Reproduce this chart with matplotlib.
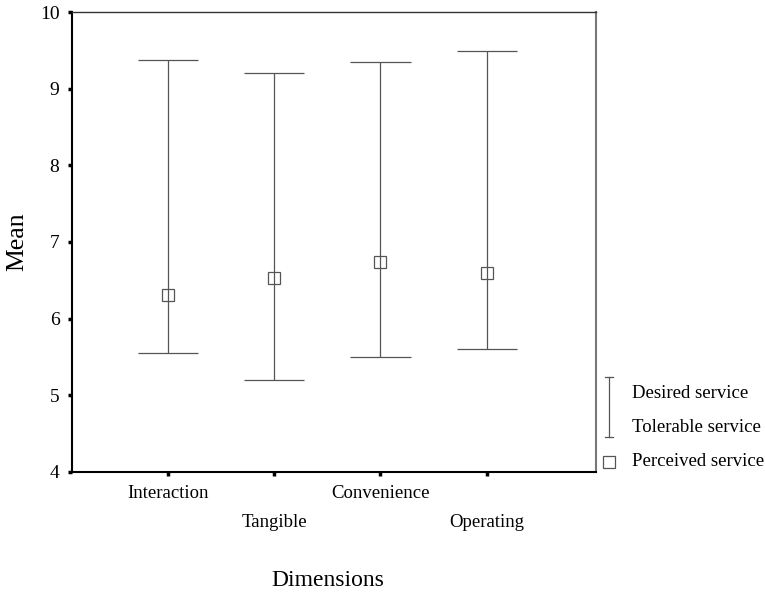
import matplotlib.pyplot as plt
from matplotlib.lines import Line2D

dimensions = ['Interaction', 'Tangible', 'Convenience', 'Operating']
desired = [9.37, 9.20, 9.35, 9.49]
tolerable = [5.55, 5.20, 5.50, 5.60]
perceived = [6.31, 6.53, 6.74, 6.60]

plt.rcParams['font.family'] = 'Liberation Serif'

fig = plt.figure(figsize=(7.65, 5.93), dpi=100)
ax = fig.add_axes([72 / 765, 1 - 472 / 593, 524 / 765, 460 / 593])

pos = [1, 2, 3, 4]
gray = '#555555'
cap = 0.283
for x, hi, lo in zip(pos, desired, tolerable):
    ax.vlines(x, lo, hi, color=gray, lw=0.9)
    ax.hlines([lo, hi], x - cap, x + cap, color=gray, lw=0.9)
ax.plot(pos, perceived, ls='none', marker='s', ms=8, mfc='none', mec=gray, mew=0.9)

ax.set_xlim(0.094, 5.03)
ax.set_ylim(4, 10)
ax.set_yticks(range(4, 11))
ax.tick_params(axis='y', labelsize=14, length=3, width=2.5, direction='out', pad=6)

ax.set_xticks([1, 3])
ax.set_xticklabels([dimensions[0], dimensions[2]])
ax.set_xticks([2, 4], minor=True)
ax.set_xticklabels([dimensions[1], dimensions[3]], minor=True)
ax.tick_params(axis='x', which='major', labelsize=13.5, length=3, width=2.5, pad=6)
ax.tick_params(axis='x', which='minor', labelsize=13.5, length=3, width=2.5, pad=27)

for s in ['left', 'bottom']:
    ax.spines[s].set_linewidth(1.5)
    ax.spines[s].set_color('black')
ax.spines['top'].set_linewidth(1.0)
ax.spines['top'].set_color('#333333')
ax.spines['right'].set_linewidth(1.5)
ax.spines['right'].set_color('#777777')

fig.text(17 / 765, 1 - 242 / 593, 'Mean', rotation=90, ha='center', va='center', fontsize=18.5)
fig.text(328 / 765, 1 - 580 / 593, 'Dimensions', ha='center', va='center', fontsize=17)

# legend drawn by hand on the right
fig.add_artist(Line2D([609 / 765] * 2, [1 - 377 / 593, 1 - 437 / 593], color=gray, lw=0.9))
for yy in [377, 437]:
    fig.add_artist(Line2D([605 / 765, 613 / 765], [1 - yy / 593] * 2, color=gray, lw=0.9))
fig.add_artist(Line2D([609 / 765], [1 - 462 / 593], ls='none', marker='s', ms=8,
                      mfc='none', mec=gray, mew=0.9))
fig.text(632 / 765, 1 - 393 / 593, 'Desired service', va='center', fontsize=13.5)
fig.text(632 / 765, 1 - 428 / 593, 'Tolerable service', va='center', fontsize=13.5)
fig.text(632 / 765, 1 - 462 / 593, 'Perceived service', va='center', fontsize=13.5)

fig.savefig('out.png', dpi=100)
